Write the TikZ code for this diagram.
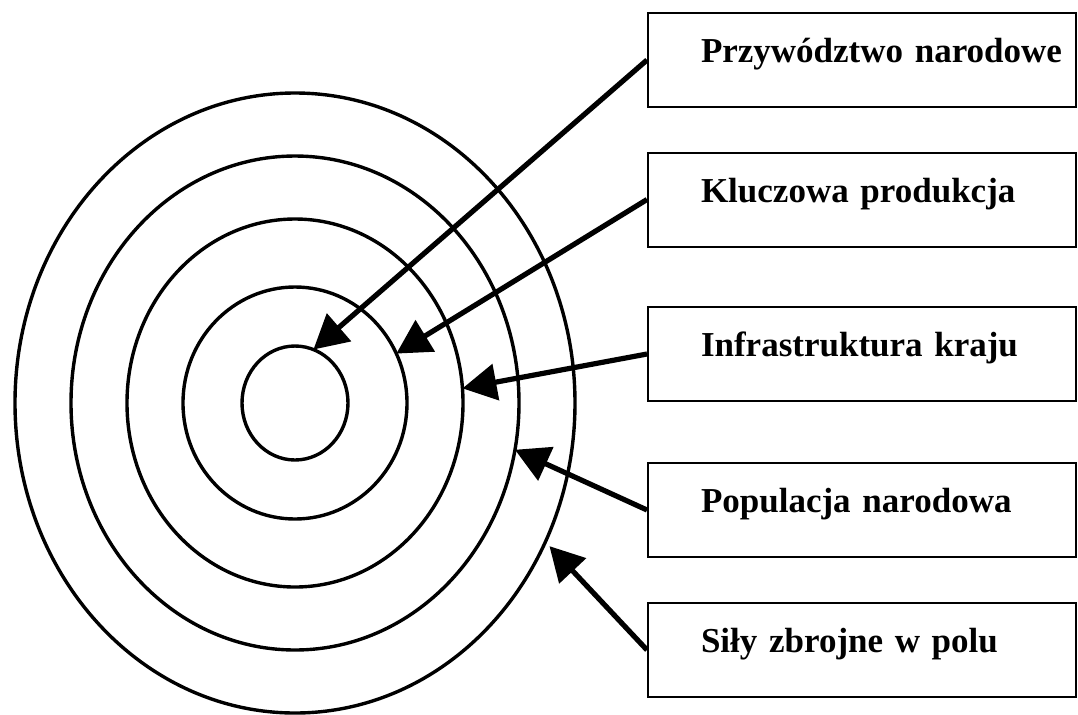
\documentclass[tikz,border=0pt]{standalone}
\usepackage{fontspec}
\setmainfont{Liberation Serif}
\usetikzlibrary{arrows.meta,shapes.geometric,positioning}

\begin{document}
\begin{tikzpicture}[x=0.5pt, y=-0.5pt]
      \useasboundingbox (0,0) rectangle (1078,714);
      \coordinate (c) at (295,403);

      % the rings of the target
      \begin{scope}[every node/.style={ellipse, draw, line width=1.7pt, outer sep=0pt, inner sep=0pt}]
          \node[minimum width=53pt, minimum height=57pt] (r1) at (c) {};
          \node[minimum width=112pt, minimum height=116pt] (r2) at (c) {};
          \node[minimum width=168pt, minimum height=184pt] (r3) at (c) {};
          \node[minimum width=224pt, minimum height=247pt] (r4) at (c) {};
          \node[minimum width=280pt, minimum height=310pt] (r5) at (c) {};
      \end{scope}

      % the boxes on the right
      \begin{scope}[every node/.style={rectangle, draw, line width=1pt, anchor=west,
                    minimum width=214pt, minimum height=47pt, inner xsep=0pt,
                    text width=214pt, align=left, text height=10pt, text depth=7.4pt,
                    font=\fontsize{17.5}{21}\selectfont\bfseries,
                    execute at begin node={\hspace*{26.5pt}}}]
          \node (b1) at (647,60) {Przywództwo narodowe};
          \node (b2) at (647,199.5) {Kluczowa produkcja};
          \node (b3) at (647,354) {Infrastruktura kraju};
          \node (b4) at (647,510) {Populacja narodowa};
          \node (b5) at (647,650) {Siły zbrojne w polu};
      \end{scope}

      \begin{scope}[line width=2.6pt, -{Triangle[length=17pt, width=18pt]}]
          \draw (b1.west) -- (r1.71);
          \draw (b2.west) -- (r2.26);
          \draw (b3.west) -- (r3.5);
          \draw (b4.west) -- (r4.-12);
          \draw[shorten >=3pt] (b5.west) -- (r5.-29);
      \end{scope}
\end{tikzpicture}
\end{document}
